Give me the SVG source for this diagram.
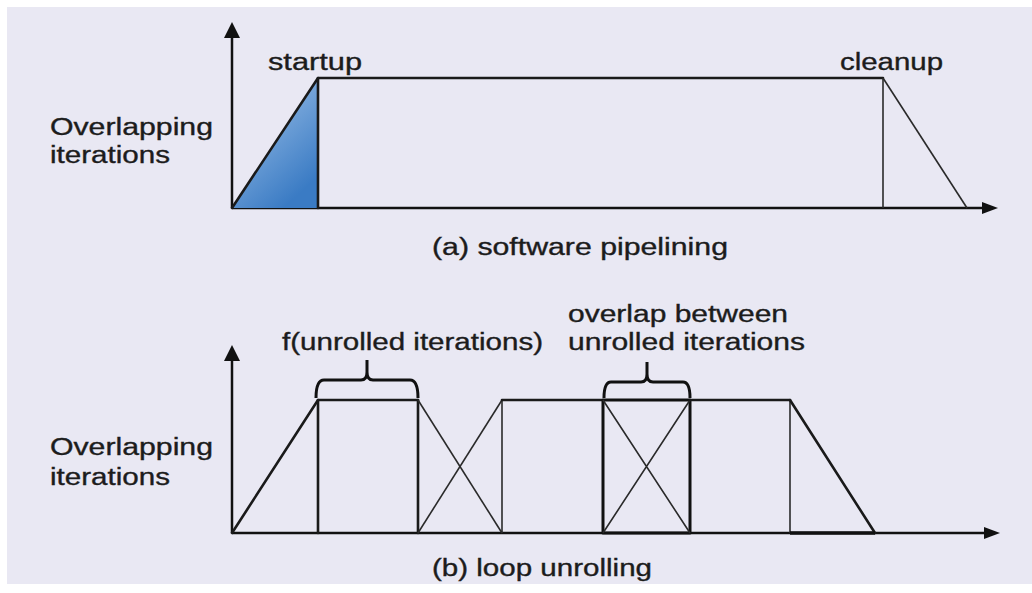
<svg xmlns="http://www.w3.org/2000/svg" width="1032" height="593" viewBox="0 0 1032 593">
  <defs>
    <style>
      .lbl { font-family: "Liberation Sans", Arial, sans-serif; font-size: 23px; fill: #1c1c1c; stroke: #1c1c1c; stroke-width: 0.35; }
      .ln { fill: none; stroke: #1a1a1a; stroke-width: 2.6; stroke-linecap: round; stroke-linejoin: round; }
      .thin { fill: none; stroke: #2a2a2a; stroke-width: 1.6; }
      .thick { fill: none; stroke: #111; stroke-width: 3; stroke-linejoin: round; }
      .axis { fill: none; stroke: #111; stroke-width: 2.5; }
      .head { fill: #111; }
    </style>
    <linearGradient id="blue" x1="0" y1="0" x2="0.6" y2="1">
      <stop offset="0" stop-color="#a9c9ec"/>
      <stop offset="1" stop-color="#3a7bc4"/>
    </linearGradient>
  </defs>

  <rect x="0" y="0" width="1032" height="593" fill="#ffffff"/>
  <rect x="7" y="7" width="1025" height="577" fill="#e9e8f3"/>

  <g id="connectors">
    <path class="axis" d="M232,208 V34"/>
    <path class="head" d="M224,38 L232,22 L240,38 Z"/>
    <path class="axis" d="M232,208 H984"/>
    <path class="head" d="M982,202 L998,208 L982,214 Z"/>
    <path class="axis" d="M232,533 V357"/>
    <path class="head" d="M224,361 L232,345 L240,361 Z"/>
    <path class="axis" d="M232,533 H986"/>
    <path class="head" d="M984,527 L1000,533 L984,539 Z"/>
  </g>

  <g id="plot-a">
    <path d="M232,208 L318,78 L318,208 Z" fill="url(#blue)"/>
    <path class="ln" d="M232,208 L318,78 H883"/>
    <path class="ln" d="M318,78 V208"/>
    <path class="thin" d="M883,78 V208"/>
    <path class="thin" d="M883,78 L967,208"/>
  </g>

  <g id="plot-b">
    <path class="ln" d="M232,533 L318,400 H418"/>
    <path class="ln" d="M318,400 V533"/>
    <path class="ln" d="M418,400 V533"/>
    <path class="thin" d="M418,400 L502,533"/>
    <path class="thin" d="M418,533 L502,400"/>
    <path class="thin" d="M502,400 V533"/>
    <path class="ln" d="M502,400 H603"/>
    <rect class="thick" x="603" y="400" width="87" height="133"/>
    <path class="thin" d="M603,400 L690,533 M603,533 L690,400"/>
    <path class="ln" d="M690,400 H790"/>
    <path class="thin" d="M790,400 V533"/>
    <path class="ln" d="M790,400 L875,533"/>
    <path d="M790,533 H875" stroke="#111" stroke-width="3.5"/>
  </g>

  <g id="brace-1">
    <path class="thick" d="M316,398 Q316,380 324,380 H361 Q367,380 367,372 V360 M367,372 Q367,380 373,380 H410 Q418,380 418,398"/>
  </g>
  <g id="brace-2">
    <path class="thick" d="M604,398 Q604,382 611,382 H641 Q647,382 647,374 V362 M647,374 Q647,382 653,382 H683 Q690,382 690,398"/>
  </g>

  <g id="labels">
    <text class="lbl" x="268" y="70" textLength="94" lengthAdjust="spacingAndGlyphs">startup</text>
    <text class="lbl" x="840" y="70" textLength="103" lengthAdjust="spacingAndGlyphs">cleanup</text>
    <text class="lbl" x="50" y="135" textLength="163" lengthAdjust="spacingAndGlyphs">Overlapping</text>
    <text class="lbl" x="50" y="163" textLength="120" lengthAdjust="spacingAndGlyphs">iterations</text>
    <text class="lbl" x="432" y="255" textLength="296" lengthAdjust="spacingAndGlyphs">(a) software pipelining</text>
    <text class="lbl" x="282" y="350" textLength="261" lengthAdjust="spacingAndGlyphs">f(unrolled iterations)</text>
    <text class="lbl" x="568" y="322" textLength="220" lengthAdjust="spacingAndGlyphs">overlap between</text>
    <text class="lbl" x="568" y="350" textLength="237" lengthAdjust="spacingAndGlyphs">unrolled iterations</text>
    <text class="lbl" x="50" y="455" textLength="163" lengthAdjust="spacingAndGlyphs">Overlapping</text>
    <text class="lbl" x="50" y="485" textLength="120" lengthAdjust="spacingAndGlyphs">iterations</text>
    <text class="lbl" x="432" y="576" textLength="220" lengthAdjust="spacingAndGlyphs">(b) loop unrolling</text>
  </g>
</svg>
